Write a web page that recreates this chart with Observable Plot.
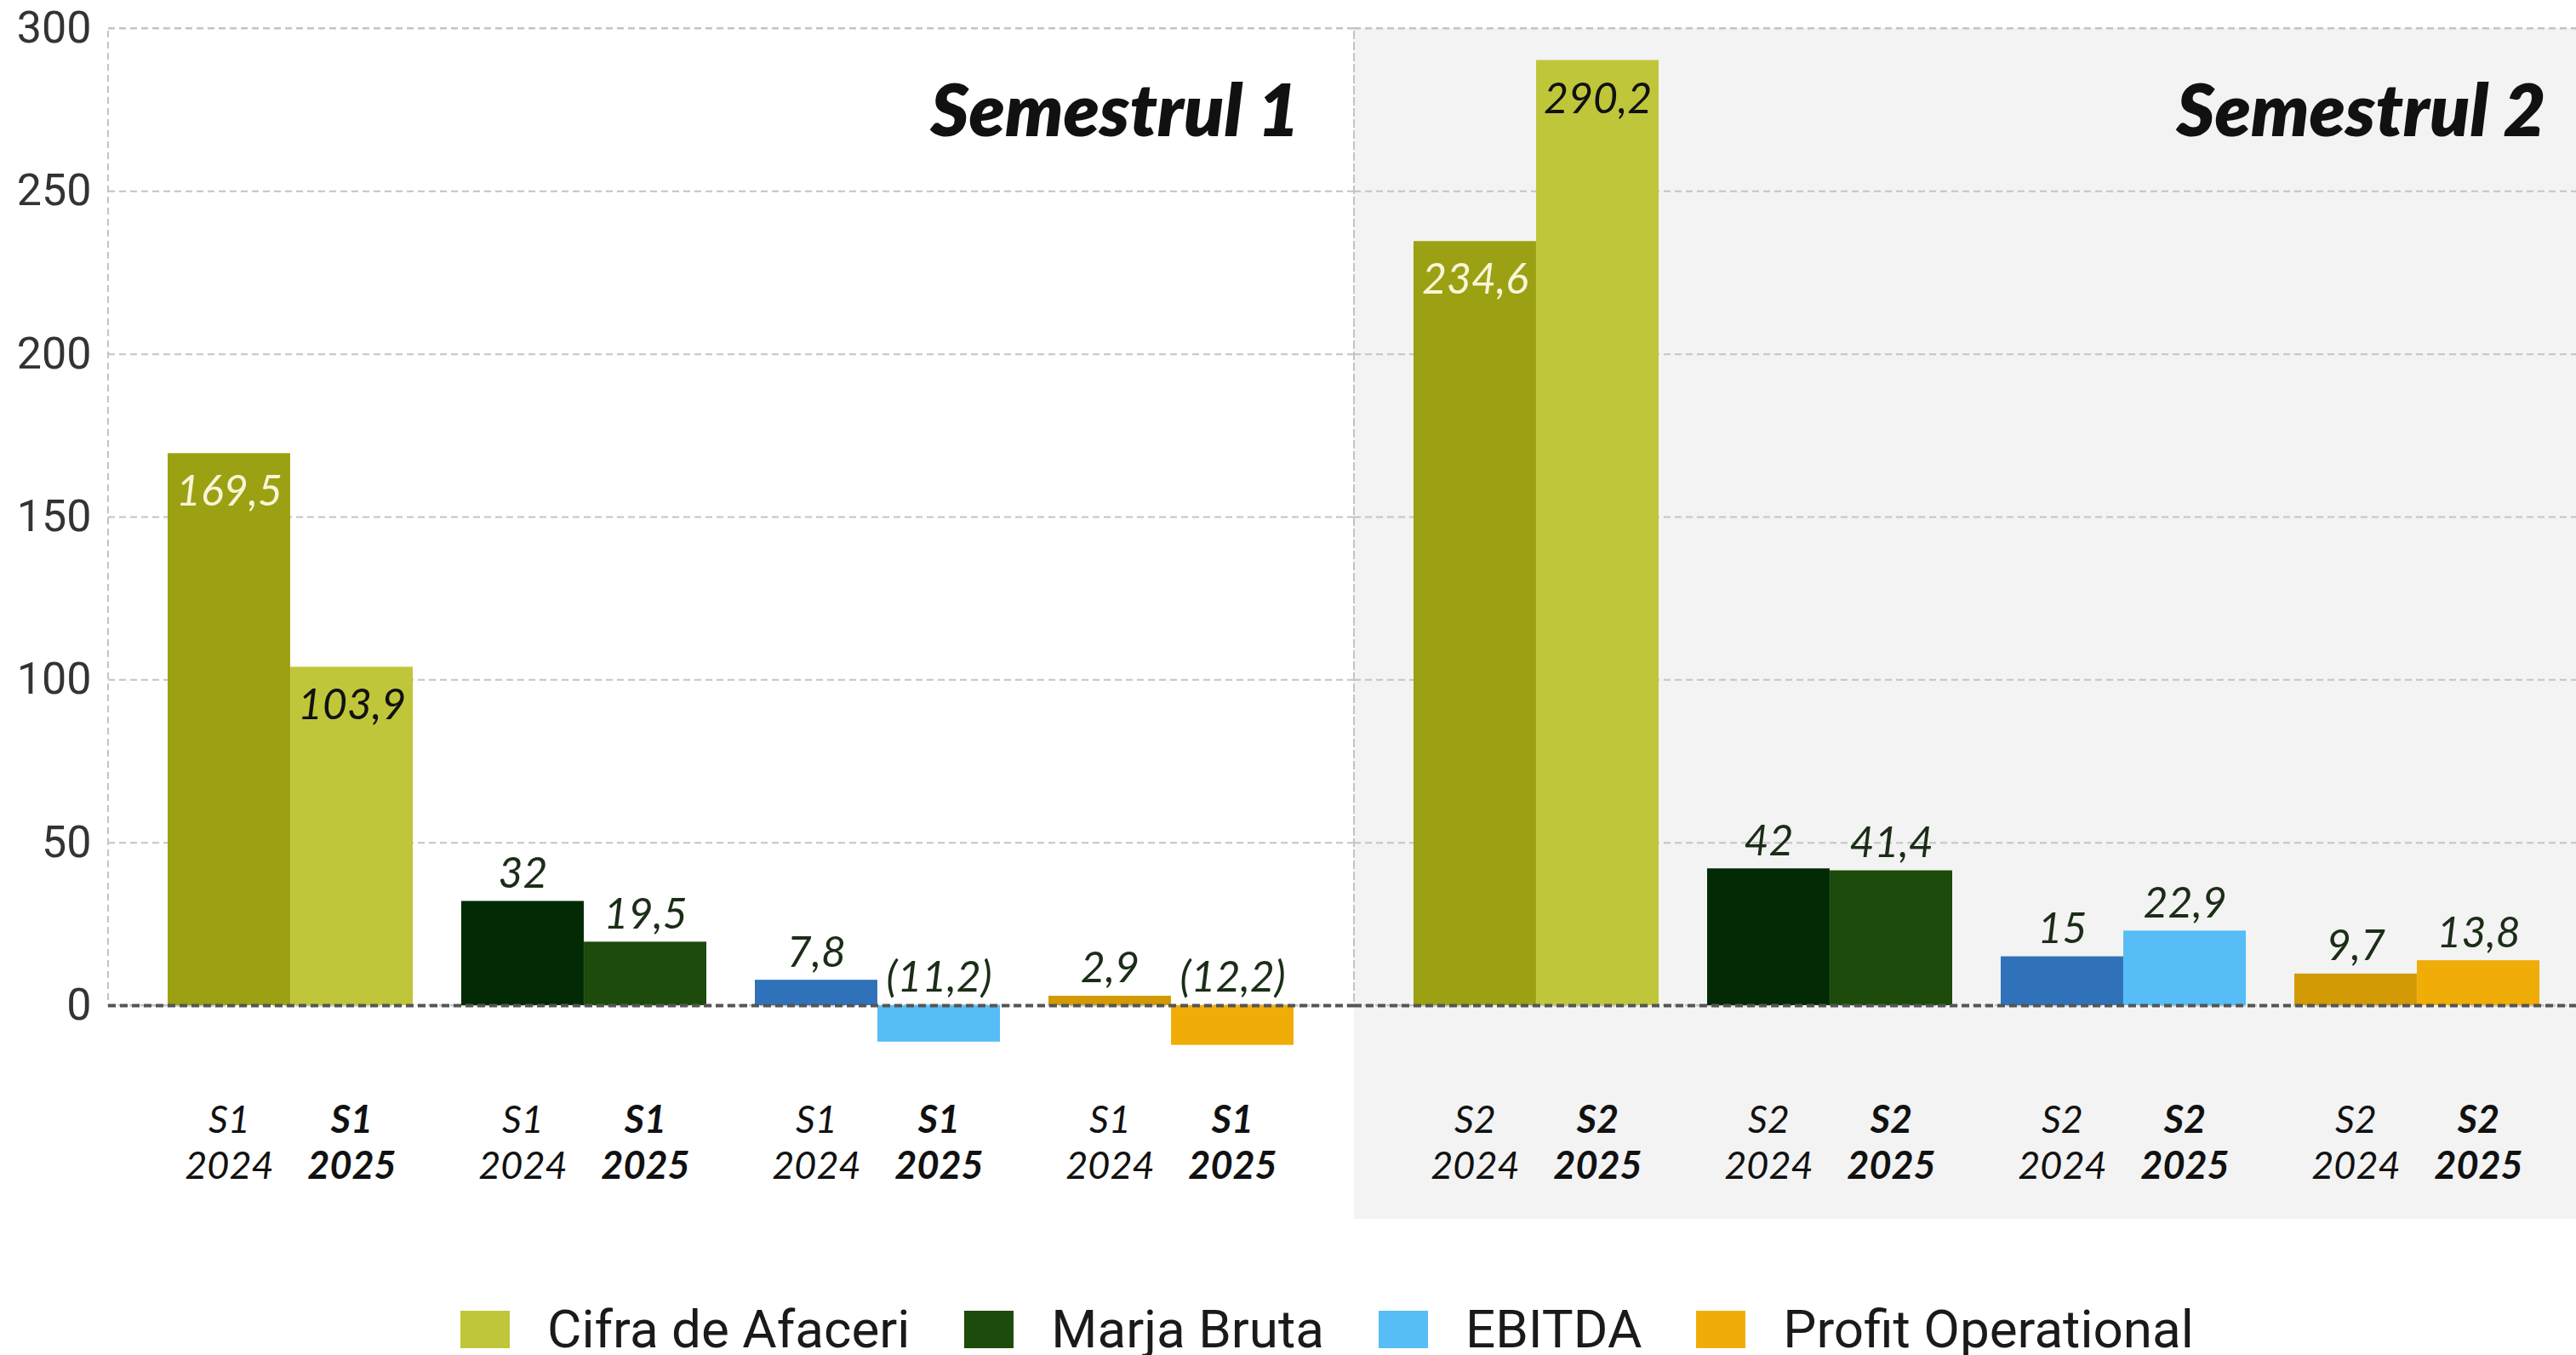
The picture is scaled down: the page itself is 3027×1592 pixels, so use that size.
<!DOCTYPE html>
<html>
<head>
<meta charset="utf-8">
<script src="https://cdn.jsdelivr.net/npm/d3@7"></script>
<script src="https://cdn.jsdelivr.net/npm/@observablehq/plot@0.6"></script>
<style>
  html, body { margin: 0; padding: 0; background: #ffffff; overflow: hidden; }
  #wrap { width: 3027px; overflow: hidden; }
  #legend { display: flex; justify-content: center; margin-top: 91px; padding-left: 92px; line-height: 1; }
  #legend [class$="-swatch"] { margin-right: 64px; }
  #legend [class$="-swatch"]:last-child { margin-right: 0; }
  #legend [class$="-swatch"] > svg { margin-right: 44px; }
</style>
</head>
<body>
<div id="wrap"><div id="chart"></div></div>
<div id="legend"></div>
<script>
// ---- data ----
const semesters = ["Semestrul 1", "Semestrul 2"];
const semesterCodes = ["S1", "S2"];
const metrics = ["Cifra de Afaceri", "Marja Bruta", "EBITDA", "Profit Operational"];
const years = ["2024", "2025"];
const s1_2024 = [169.5, 32, 7.8, 2.9];
const s1_2025 = [103.9, 19.5, -11.2, -12.2];
const s2_2024 = [234.6, 42, 15, 9.7];
const s2_2025 = [290.2, 41.4, 22.9, 13.8];
const yTicks = [0, 50, 100, 150, 200, 250, 300];
const colors2024 = ["#9ba112", "#022a04", "#2f72b9", "#d29a05"];
const colors2025 = ["#bfc63a", "#1c4b0b", "#56bdf6", "#f0ad07"];

// ---- table ----
const series = [[s1_2024, s1_2025], [s2_2024, s2_2025]];
const rows = [];
semesters.forEach((sem, si) =>
  years.forEach((yr, yi) =>
    metrics.forEach((m, mi) =>
      rows.push({semester: sem, code: semesterCodes[si], year: yr, metric: m,
                 value: series[si][yi][mi], key: m + " " + yr}))));
const colorKeys = [...metrics.map(m => m + " 2024"), ...metrics.map(m => m + " 2025")];
const colorRange = [...colors2024, ...colors2025];

const fmt = v => {
  const s = String(Math.abs(v)).replace(".", ",");
  return v < 0 ? `(${s})` : s;
};

// ---- layout ----
const W = 3055, H = 1440, ML = 127, MR = 0, MT = 33, MB = 8;
const padInner = 0.165, padOuter = 0.204;
const facetWidth = (W - ML - MR) / semesters.length;
const band = d3.scaleBand(metrics, [0, facetWidth]).paddingInner(padInner).paddingOuter(padOuter).bandwidth();
const half = band / 2, quarter = band / 4;

const labelFont = {fontFamily: "Lato", fontStyle: "italic", fontSize: 50};

function yearMarks(year, sign) {
  const r = rows.filter(d => d.year === year);
  const inside = r.filter(d => d.metric === metrics[0]);
  const above = r.filter(d => d.metric !== metrics[0]);
  return [
    Plot.text(inside, {fx: "semester", x: "metric", y: "value", text: d => fmt(d.value),
      dx: sign * quarter, dy: 26, lineAnchor: "top",
      fill: year === "2024" ? "#f8f6d8" : "#111111", ...labelFont}),
    Plot.text(above, {fx: "semester", x: "metric", y: d => Math.max(0, d.value), text: d => fmt(d.value),
      dx: sign * quarter, dy: -16, lineAnchor: "bottom", fill: "#1b2d17", ...labelFont}),
    Plot.text(r, {fx: "semester", x: "metric", text: d => `${d.code}\n${d.year}`,
      frameAnchor: "bottom", lineAnchor: "top", dx: sign * quarter, dy: -140, lineHeight: 1.2,
      fontFamily: "Lato", fontStyle: "italic", fontSize: 45,
      fontWeight: year === "2025" ? 700 : 400, fill: "#111111"})
  ];
}

const chart = Plot.plot({
  width: W, height: H,
  marginLeft: ML, marginRight: MR, marginTop: MT, marginBottom: MB,
  style: {fontFamily: "Roboto", fontSize: "52px", color: "#333333", background: "transparent", maxWidth: "none", overflow: "visible"},
  fx: {domain: semesters, padding: 0, axis: null},
  x: {domain: metrics, paddingInner: padInner, paddingOuter: padOuter, axis: null},
  y: {domain: [-65.6, 300], axis: null},
  color: {domain: colorKeys, range: colorRange},
  marks: [
    Plot.rect([semesters[1]], {fx: d => d, fill: "#f3f3f3"}),
    Plot.gridY(yTicks, {stroke: "#c4c4c4", strokeOpacity: 1, strokeWidth: 2, strokeDasharray: "8,5"}),
    Plot.rect(semesters, {fx: d => d, y1: yTicks[0], y2: yTicks[yTicks.length - 1],
      fill: "none", stroke: "#c4c4c4", strokeWidth: 2, strokeDasharray: "8,5"}),
    Plot.barY(rows.filter(d => d.year === "2024"), {fx: "semester", x: "metric", y: "value", fill: "key", insetRight: half}),
    Plot.barY(rows.filter(d => d.year === "2025"), {fx: "semester", x: "metric", y: "value", fill: "key", insetLeft: half}),
    Plot.ruleY([0], {stroke: "#555555", strokeWidth: 4, strokeDasharray: "9,5"}),
    Plot.axisY({ticks: yTicks, label: null, tickSize: 0, tickPadding: 20, fontSize: 52, fill: "#333333"}),
    ...yearMarks("2024", -1),
    ...yearMarks("2025", 1),
    Plot.text(semesters, {fx: d => d, text: d => d, frameAnchor: "top-right", textAnchor: "end",
      lineAnchor: "bottom", dx: -64, dy: 126, fontFamily: "Lato", fontStyle: "italic",
      fontWeight: 800, fontSize: 86, fill: "#111111"})
  ]
});
document.getElementById("chart").appendChild(chart);

const legend = Plot.legend({
  color: {domain: metrics, range: colors2025},
  legend: "swatches", swatchWidth: 58, swatchHeight: 44,
  style: {fontFamily: "Roboto", fontSize: "62px", color: "#1a1a1a", lineHeight: "1"}
});
document.getElementById("legend").appendChild(legend);
</script>
</body>
</html>
